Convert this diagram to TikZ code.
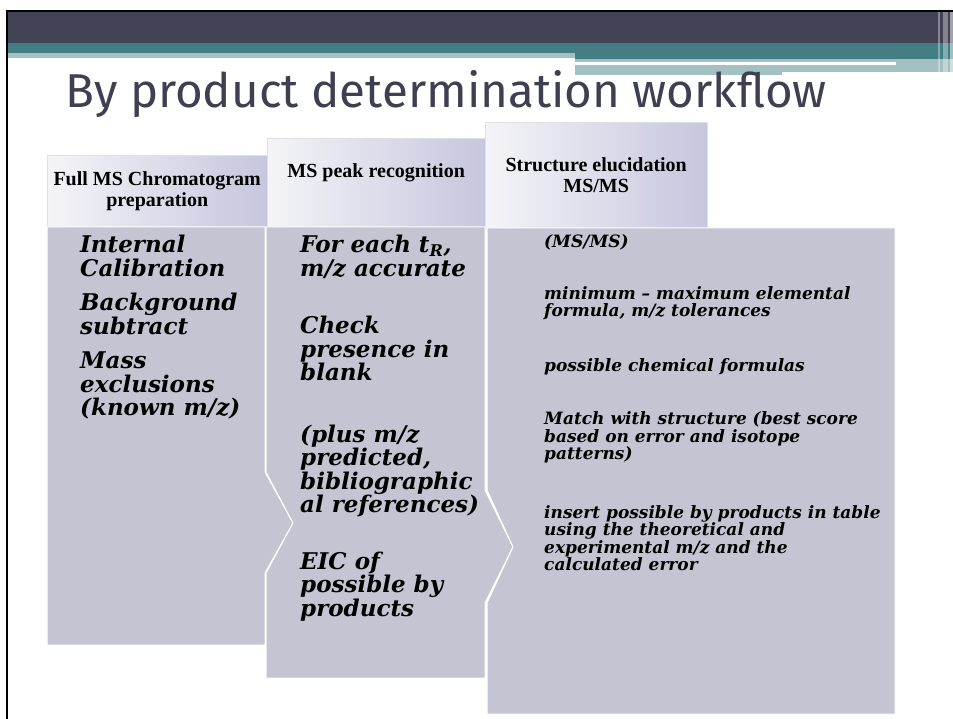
\documentclass[tikz,border=0pt]{standalone}
\usepackage{fontspec}
\setmainfont{DejaVu Serif}
\newfontfamily\titlefont{Fira Sans}
\newfontfamily\headfont{Liberation Serif}
\usetikzlibrary{positioning}

\definecolor{bardark}{HTML}{434356}
\definecolor{barteal}{HTML}{437E84}
\definecolor{barlight}{HTML}{A3C0C2}
\definecolor{titleink}{HTML}{3F3F52}
\definecolor{bodygray}{HTML}{C4C4D2}
\definecolor{headlight}{HTML}{F4F4F8}
\definecolor{headlav}{HTML}{C6C6DE}

\begin{document}
\begin{tikzpicture}[x=1pt, y=-1pt,
	colbody/.style={fill=bodygray, draw=white, line width=1pt},
	head/.style={rectangle, anchor=north west, inner sep=0pt, left color=headlight, right color=headlav, draw=black!12, align=center, font=\headfont\bfseries\fontsize{20}{21}\selectfont},
	bodytext/.style={anchor=north west, inner sep=0pt, align=left, font=\bfseries\itshape\fontsize{23}{23.5}\selectfont},
	smalltext/.style={bodytext, font=\bfseries\itshape\fontsize{17}{17.5}\selectfont}
	]
	\useasboundingbox [fill=white] (0,0) rectangle (953,719);

	% slide banner
	\fill [bardark] (7,12) rectangle (953,43);
	\fill [barteal] (7,43) rectangle (953,53);
	\fill [barteal] (575,53) rectangle (953,59);
	\fill [barlight] (7,53) rectangle (575,58);
	\fill [barlight] (575,59) rectangle (953,72);
	\fill [barlight] (575,72) rectangle (782,75);
	\fill [white] (575,62) rectangle (896,65);
	\fill [white, opacity=.35] (938,12) rectangle (940,72);
	\fill [white, opacity=.35] (943,12) rectangle (948,72);
	\fill [white, opacity=.5] (950,12) rectangle (953,76);
	\draw [line width=2pt] (7,719) -- (7,11) -- (953,11);

	\node (title) [anchor=base west, inner sep=0pt, text=titleink, font=\titlefont\fontsize{47.5}{50}\selectfont] at (65,108) {By product determination workflow};

	% step headers
	\node (head1) [head, minimum width=220pt, minimum height=72pt] at (47,155) {Full MS Chromatogram\\preparation};
	\node (head2) [head, minimum width=218pt, minimum height=89pt, text depth=25pt] at (267,138) {MS peak recognition};
	\node (head3) [head, minimum width=222pt, minimum height=106pt] at (485,122) {Structure elucidation\\MS/MS};

	% step bodies
	\filldraw [colbody] (47,227) -- (265,227) -- (265,472) -- (293,523) -- (265,573) -- (265,645) -- (47,645) -- cycle;
	\filldraw [colbody] (266,227) -- (485,227) -- (485,490) -- (513,547) -- (485,603) -- (485,678) -- (266,678) -- (266,573) -- (293,523) -- (266,472) -- cycle;
	\filldraw [colbody] (487,228) -- (895,228) -- (895,714) -- (487,714) -- (487,603) -- (513,547) -- (487,490) -- cycle;

	\node (prep) [bodytext] at (80,235) {Internal\\Calibration\\[11pt]Background\\subtract\\[11pt]Mass\\exclusions\\(known m/z)};
	\node (peaks) [bodytext] at (300,235) {For each t\textsubscript{R},\\m/z accurate\\[34pt]Check\\presence in\\blank\\[38pt](plus m/z\\predicted,\\bibliographic\\al references)\\[33pt]EIC of\\possible by\\products};
	\node (struct) [smalltext] at (544,234) {(MS/MS)\\[34.5pt]minimum -- maximum elemental\\formula, m/z tolerances\\[37.5pt]possible chemical formulas\\[35.5pt]Match with structure (best score\\based on error and isotope\\patterns)\\[41pt]insert possible by products in table\\using the theoretical and\\experimental m/z and the\\calculated error};
\end{tikzpicture}
\end{document}
